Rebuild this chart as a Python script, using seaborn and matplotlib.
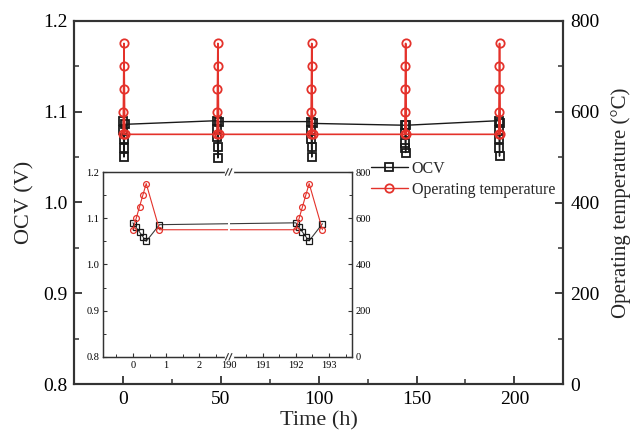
import numpy as np
import pandas as pd
import matplotlib
matplotlib.use("Agg")
import matplotlib.pyplot as plt
from matplotlib.lines import Line2D
from matplotlib.ticker import MultipleLocator, FixedLocator
import seaborn as sns

# ---------------- data ----------------
time_h = [0, 0.1, 0.2, 0.3, 0.4, 0.8,
          48, 48.1, 48.2, 48.3, 48.4, 48.8,
          96, 96.1, 96.2, 96.3, 96.4, 96.8,
          144, 144.1, 144.2, 144.3, 144.4, 144.8,
          192, 192.1, 192.2, 192.3, 192.4, 192.8]
ocv_v = [1.090, 1.080, 1.070, 1.060, 1.050, 1.086,
         1.090, 1.081, 1.072, 1.061, 1.049, 1.089,
         1.089, 1.080, 1.070, 1.061, 1.050, 1.087,
         1.085, 1.076, 1.066, 1.060, 1.055, 1.085,
         1.090, 1.080, 1.070, 1.060, 1.051, 1.088]
temp_c = [550, 600, 650, 700, 750, 550,
          550, 600, 650, 700, 750, 550,
          550, 600, 650, 700, 750, 550,
          550, 600, 650, 700, 750, 550,
          550, 600, 650, 700, 750, 550]
main_xticks = [0, 50, 100, 150, 200]
inset_xticks = [0, 1, 2, 190, 191, 192, 193]
inset_xticklabels = ["0", "1", "2", "190", "191", "192", "193"]
ocv_ticks = [0.8, 0.9, 1.0, 1.1, 1.2]
temp_ticks = [0, 200, 400, 600, 800]

df = pd.DataFrame({"time": time_h, "ocv": ocv_v, "temp": temp_c})

sns.set_style("ticks")
plt.rcParams["font.family"] = ["Liberation Serif", "DejaVu Serif"]
plt.rcParams["mathtext.fontset"] = "stix"

RED = "#e4322b"
BLK = "#1a1a1a"
SPINE = "#333333"

W, H = 633, 438
fig = plt.figure(figsize=(W / 100, H / 100), dpi=100)
fig.patch.set_facecolor("white")

# ---------------- main axes ----------------
L, R, T, B = 74.3, 563.3, 20.7, 384.3
ax = fig.add_axes([L / W, 1 - B / H, (R - L) / W, (B - T) / H])
ax2 = ax.twinx()

sns.lineplot(data=df, x="time", y="ocv", ax=ax, sort=False, estimator=None,
             color=BLK, linewidth=1.0, marker="s", markersize=5.3,
             markerfacecolor="none", markeredgecolor=BLK, markeredgewidth=1.3)
sns.lineplot(data=df, x="time", y="temp", ax=ax2, sort=False, estimator=None,
             color=RED, linewidth=1.2, marker="o", markersize=6,
             markerfacecolor="none", markeredgecolor=RED, markeredgewidth=1.3)

ax.set_xlim(-25, 225)
ax.set_ylim(0.8, 1.2)
ax2.set_ylim(0, 800)
ax.set_xticks(main_xticks)
ax.xaxis.set_minor_locator(MultipleLocator(25))
ax.set_yticks(ocv_ticks)
ax.set_yticklabels([f"{v:.1f}" for v in ocv_ticks])
ax.yaxis.set_minor_locator(MultipleLocator(0.05))
ax2.set_yticks(temp_ticks)
ax2.yaxis.set_minor_locator(MultipleLocator(100))

for a in (ax, ax2):
    a.tick_params(which="major", direction="in", length=6, width=1.3,
                  labelsize=14, colors=SPINE, labelcolor="black", pad=5)
    a.tick_params(which="minor", direction="in", length=3.5, width=1.1, colors=SPINE)
    for s in a.spines.values():
        s.set_linewidth(1.5)
        s.set_color(SPINE)
        s.set_visible(True)
ax.tick_params(axis="x", which="both", top=False)
ax2.tick_params(axis="x", which="both", top=False, bottom=False)

ax.set_xlabel("Time (h)", fontsize=16, labelpad=2)
ax.set_ylabel("OCV (V)", fontsize=16, labelpad=6)
ax2.set_ylabel("Operating temperature (°C)", fontsize=15, labelpad=8)

handles = [
    Line2D([], [], color=BLK, linewidth=1.0, marker="s", markersize=6,
           markerfacecolor="none", markeredgecolor=BLK, markeredgewidth=1.3),
    Line2D([], [], color=RED, linewidth=1.0, marker="o", markersize=6,
           markerfacecolor="none", markeredgecolor=RED, markeredgewidth=1.3),
]
fig.legend(handles, ["OCV", "Operating temperature"], loc="upper left",
           bbox_to_anchor=(371 / W, 1 - 161 / H), frameon=False, fontsize=11.5,
           handlelength=2.3, handletextpad=0.25, labelspacing=0.3,
           borderpad=0, borderaxespad=0)

# ---------------- inset ----------------
iL, iR, iT, iB = 103.3, 351.7, 172.0, 356.8
ins = fig.add_axes([iL / W, 1 - iB / H, (iR - iL) / W, (iB - iT) / H])
ins.set_facecolor("white")

BRK_LO, BRK_HI, GAP = 2.86, 190.0, 2.9


def fwd(x):
    x = np.asarray(x, dtype=float)
    return np.where(x <= BRK_LO, x, np.where(x >= BRK_HI, x - BRK_HI + GAP, BRK_LO))


def inv(y):
    y = np.asarray(y, dtype=float)
    return np.where(y <= BRK_LO, y, y - GAP + BRK_HI)


ins.set_xscale("function", functions=(fwd, inv))
ins2 = ins.twinx()

sub = df[(df["time"] < 3) | (df["time"] > 190)]
sns.lineplot(data=sub, x="time", y="ocv", ax=ins, sort=False, estimator=None,
             color="#3a3a3a", linewidth=0.8, marker="s", markersize=4,
             markerfacecolor="none", markeredgecolor=BLK, markeredgewidth=0.9)
sns.lineplot(data=sub, x="time", y="temp", ax=ins2, sort=False, estimator=None,
             color=RED, linewidth=0.8, marker="o", markersize=4.2,
             markerfacecolor="none", markeredgecolor=RED, markeredgewidth=0.9)

ins.set_xlim(-0.89, 193.68)
ins.set_ylim(0.8, 1.2)
ins2.set_ylim(0, 800)
ins.xaxis.set_major_locator(FixedLocator(inset_xticks))
ins.set_xticklabels(inset_xticklabels)
ins.xaxis.set_minor_locator(FixedLocator([-0.5, 0.5, 1.5, 2.5, 190.5, 191.5, 192.5, 193.5]))
ins.set_yticks(ocv_ticks)
ins.set_yticklabels([f"{v:.1f}" for v in ocv_ticks])
ins.yaxis.set_minor_locator(MultipleLocator(0.05))
ins2.set_yticks(temp_ticks)
ins2.yaxis.set_minor_locator(MultipleLocator(100))
ins.set_xlabel("")
ins.set_ylabel("")
ins2.set_ylabel("")

for a in (ins, ins2):
    a.tick_params(which="major", direction="in", length=3, width=0.8,
                  labelsize=7.5, colors=SPINE, labelcolor="black", pad=3)
    a.tick_params(which="minor", direction="in", length=2, width=0.7, colors=SPINE)
    for s in a.spines.values():
        s.set_linewidth(0.9)
        s.set_color(SPINE)
        s.set_visible(True)
ins.tick_params(axis="x", which="both", top=False)
ins2.tick_params(axis="x", which="both", top=False, bottom=False)

# break: white gap in the lines and "//" marks on the spines
ins2.axvspan(BRK_LO - 0.01, BRK_HI + 0.02, color="white", zorder=5, lw=0)
xb = (fwd(BRK_LO) + 0.02 - (-0.89)) / (fwd(193.68) - (-0.89))
for yb in (0.0, 1.0):
    ins2.plot([xb - 0.012, xb + 0.012], [yb, yb], transform=ins2.transAxes,
              color="white", lw=2.5, clip_on=False, zorder=6)
    for dx in (-0.007, 0.007):
        ins2.plot([xb + dx - 0.006, xb + dx + 0.006], [yb - 0.018, yb + 0.018],
                  transform=ins2.transAxes, color=SPINE, lw=0.8,
                  clip_on=False, zorder=7)

fig.savefig("out.png", dpi=100, facecolor="white")
